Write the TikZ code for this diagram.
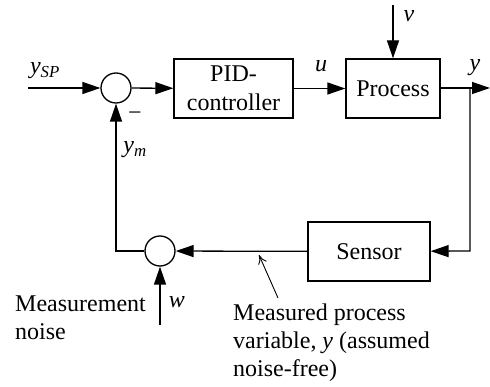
\documentclass[tikz,border=0pt]{standalone}
\usepackage{fontspec}
\setmainfont{Liberation Serif}
\usetikzlibrary{arrows.meta}
\begin{document}
\begin{tikzpicture}[x=1pt,y=-1pt,
  every node/.style={font=\fontsize{24}{28.5}\selectfont},
  wire/.style={line width=1.3pt},
  sig/.style={wire,-{Triangle[length=18pt,width=12pt]}},
  blockbox/.style={draw,line width=1.3pt,rectangle,inner sep=0pt,align=center},
  sumnode/.style={draw,line width=1.3pt,circle,minimum size=30pt,inner sep=0pt},
  lbl/.style={inner sep=0pt},
  note/.style={line width=0.9pt,-{To[length=9pt,width=9pt]}}]
\useasboundingbox (0,0) rectangle (490,387);
% blocks
\node[sumnode] (s1) at (116,88) {};
\node[blockbox,minimum width=119pt,minimum height=59pt] (pid) at (233.5,88.5) {PID-\\controller};
\node[blockbox,minimum width=94pt,minimum height=59pt] (proc) at (393,88.5) {Process};
\node[blockbox,minimum width=122pt,minimum height=59pt] (sens) at (369,251.5) {Sensor};
\node[sumnode] (s2) at (160,251) {};
% coordinates
\coordinate (in) at (28,88);
\coordinate (out) at (490,88);
\coordinate (br) at (470,88);
\coordinate (brd) at (470,251);
\coordinate (lc) at (116,251);
\coordinate (vtop) at (393,5);
\coordinate (wbot) at (160,325);
\coordinate (ntail) at (278,298);
\coordinate (nhead) at (259,255);
% connectors
\draw[sig] (in) -- (s1);
\draw[sig] (s1) -- (pid);
\draw[sig] (pid) -- (proc);
\draw[sig] (vtop) -- (proc);
\draw[sig] (proc.east |- out) -- (out);
\draw[sig] (br) -- (brd) -- (sens);
\draw[sig] (sens) -- (s2);
\draw[sig] (s2) -- (lc) -- (s1);
\draw[sig] (wbot) -- (s2);
\draw[note] (ntail) -- (nhead);
% labels
\node[lbl] (lsp) at (45,71) {\itshape y\textsubscript{\itshape SP}};
\node[lbl] (lu) at (321,66) {\itshape u};
\node[lbl] (ly) at (475,68) {\itshape y};
\node[lbl] (lv) at (409,16) {\itshape v};
\node[lbl] (lw) at (177,302) {\itshape w};
\node[lbl] (lym) at (135,150) {\itshape y\textsubscript{\itshape m}};
\node[lbl] (lminus) at (135,116) {−};
\node[lbl,anchor=base west,align=left] (lmn) at (15,340) {Measurement\\noise};
\node[lbl,anchor=base west,align=left] (lmp) at (233,377) {Measured process\\variable, \textit{y} (assumed\\noise-free)};
\end{tikzpicture}
\end{document}
